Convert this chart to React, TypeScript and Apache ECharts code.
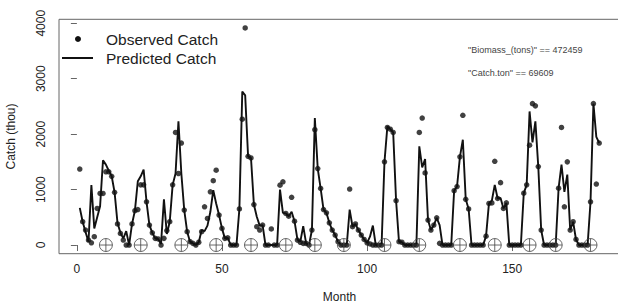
import React, { useEffect, useRef } from "react";
import * as echarts from "echarts";

// Month index 1..180
const months: number[] = Array.from({ length: 180 }, (_, i) => i + 1);

// Observed catch (thou)
const observed: number[] = [
  1370, 420, 270, 90, 40, 150, 660, 930, 930, 1320,
  1320, 1240, 950, 380, 210, 90, 0, 0, 380, 620,
  640, 1085, 1085, 780, 360, 220, 120, 110, 0, 120,
  260, 420, 1085, 2030, 1290, 1840, 630, 240, 60, 30,
  0, 50, 240, 690, 480, 960, 1160, 1350, 540, 300,
  120, 130, 0, 0, 0, 650, 2270, 3915, 1600, 1570,
  730, 330, 270, 360, 0, 0, 290, 0, 0, 1080,
  1140, 570, 520, 860, 430, 90, 50, 30, 30, 0,
  270, 2080, 1380, 1020, 640, 580, 400, 270, 180, 60,
  0, 0, 0, 1010, 330, 380, 270, 180, 100, 40,
  20, 0, 0, 0, 0, 1500, 2120, 2090, 2030, 800,
  60, 50, 0, 0, 0, 0, 0, 2030, 2290, 1300,
  450, 270, 360, 490, 30, 0, 0, 0, 0, 980,
  1055, 1590, 2340, 825, 650, 0, 0, 0, 0, 0,
  160, 750, 760, 1510, 840, 1125, 660, 760, 0, 0,
  0, 0, 0, 935, 1085, 1800, 2550, 2510, 1415, 270,
  0, 0, 0, 0, 0, 1025, 2120, 690, 1500, 270,
  420, 100, 0, 0, 0, 0, 780, 2550, 1100, 1840,
];

// Predicted catch (thou)
const predicted: number[] = [
  670, 420, 230, 60, 1080, 300, 500, 700, 1530, 1450,
  1340, 1240, 950, 400, 220, 120, 250, 0, 380, 620,
  1150, 1240, 1360, 780, 360, 220, 120, 110, 20, 825,
  200, 420, 1085, 1290, 2230, 1290, 630, 240, 60, 30,
  0, 50, 270, 250, 350, 600, 990, 750, 540, 300,
  120, 130, 0, 0, 0, 650, 2770, 2700, 1600, 1570,
  730, 510, 350, 360, 0, 0, 0, 0, 0, 1000,
  580, 570, 520, 600, 430, 100, 60, 340, 30, 0,
  270, 2290, 1380, 1020, 640, 580, 400, 270, 180, 60,
  0, 0, 0, 640, 330, 380, 270, 180, 100, 40,
  150, 350, 0, 0, 0, 1500, 2140, 2090, 2030, 800,
  60, 50, 0, 0, 0, 0, 0, 1780, 1400, 1550,
  450, 270, 360, 490, 360, 0, 0, 0, 0, 980,
  1055, 1590, 1900, 825, 650, 0, 0, 0, 0, 0,
  160, 750, 800, 1085, 840, 850, 660, 760, 0, 0,
  0, 0, 0, 935, 1085, 2410, 1850, 2230, 1415, 270,
  0, 0, 0, 0, 0, 1025, 1450, 960, 1270, 270,
  420, 100, 0, 0, 0, 0, 780, 2550, 1950, 1840,
];

// Months marked with a circled plus on the baseline
const markerMonths: number[] = [10, 22, 36, 48, 60, 72, 82, 92, 106, 118, 132, 144, 156, 165, 177];

const xTicks: number[] = [0, 50, 100, 150];
const yTicks: number[] = [0, 1000, 2000, 3000, 4000];

const legendLabels: string[] = ["Observed Catch", "Predicted Catch"];
const annotations: string[] = ['"Biomass_(tons)" == 472459', '"Catch.ton" == 69609'];

const FONT = "Liberation Sans, Arial, Helvetica, sans-serif";

export default function App() {
  const ref = useRef<HTMLDivElement>(null);

  useEffect(() => {
    if (!ref.current) return;
    const chart = echarts.init(ref.current, undefined, { renderer: "svg" });

    const option: any = {
      animation: false,
      backgroundColor: "#ffffff",
      grid: {
        left: 59,
        right: -2,
        top: 19.3,
        bottom: 49.3,
        show: true,
        borderColor: "#666",
        borderWidth: 1,
        backgroundColor: "transparent",
        containLabel: false,
        outerBoundsMode: "none",
      },
      xAxis: {
        type: "value",
        min: -6.16,
        max: 187.16,
        name: "Month",
        nameLocation: "middle",
        nameGap: 37,
        nameTextStyle: { color: "#222", fontSize: 12, fontFamily: FONT },
        axisLine: { show: false },
        splitLine: { show: false },
        axisTick: {
          show: true,
          inside: false,
          length: 6,
          customValues: xTicks,
          lineStyle: { color: "#666", width: 1 },
        },
        axisLabel: {
          show: true,
          customValues: xTicks,
          margin: 9,
          color: "#222",
          fontSize: 12,
          fontFamily: FONT,
          formatter: (v: number) => String(v),
        },
      },
      yAxis: {
        type: "value",
        min: -156.6,
        max: 4071.6,
        name: "Catch (thou)",
        nameLocation: "middle",
        nameGap: 42,
        nameRotate: 90,
        nameTextStyle: { color: "#222", fontSize: 12, fontFamily: FONT },
        axisLine: { show: false },
        splitLine: { show: false },
        axisTick: {
          show: true,
          inside: false,
          length: 6,
          customValues: yTicks,
          lineStyle: { color: "#666", width: 1 },
        },
        axisLabel: {
          show: true,
          customValues: yTicks,
          rotate: 90,
          margin: 18,
          color: "#222",
          fontSize: 12,
          fontFamily: FONT,
          align: "center",
          verticalAlign: "middle",
          formatter: (v: number) => String(v),
        },
      },
      series: [
        {
          name: "Predicted Catch",
          type: "line",
          data: predicted.map((v, i) => [months[i], v]),
          showSymbol: false,
          symbol: "none",
          lineStyle: { color: "#111", width: 1.9 },
          z: 2,
        },
        {
          name: "Observed Catch",
          type: "scatter",
          data: observed.map((v, i) => [months[i], v]),
          symbol: "circle",
          symbolSize: 5.5,
          itemStyle: { color: "#111" },
          z: 3,
        },
        {
          name: "Markers",
          type: "scatter",
          data: markerMonths.map((m) => [m, 0]),
          symbol:
            "path://M10,0A10,10,0,1,1,-10,0A10,10,0,1,1,10,0ZM-10,0L10,0M0,-10L0,10",
          symbolSize: 13,
          itemStyle: { color: "rgba(0,0,0,0)", borderColor: "#444", borderWidth: 1 },
          z: 4,
        },
      ],
      graphic: [
        { type: "circle", shape: { cx: 78, cy: 39, r: 3 }, style: { fill: "#111" } },
        {
          type: "text",
          x: 106,
          y: 39,
          style: { text: legendLabels[0], fill: "#222", fontSize: 15.5, fontFamily: FONT, verticalAlign: "middle" },
        },
        { type: "line", shape: { x1: 62, y1: 58, x2: 93, y2: 58 }, style: { stroke: "#111", lineWidth: 2 } },
        {
          type: "text",
          x: 106,
          y: 58,
          style: { text: legendLabels[1], fill: "#222", fontSize: 15.5, fontFamily: FONT, verticalAlign: "middle" },
        },
        {
          type: "text",
          x: 468,
          y: 50,
          style: { text: annotations[0], fill: "#444", fontSize: 9, fontFamily: FONT, verticalAlign: "middle" },
        },
        {
          type: "text",
          x: 468,
          y: 72.5,
          style: { text: annotations[1], fill: "#444", fontSize: 9, fontFamily: FONT, verticalAlign: "middle" },
        },
      ],
    };

    chart.setOption(option);
    return () => {
      chart.dispose();
    };
  }, []);

  return (
    <div
      ref={ref}
      style={{ position: "absolute", left: 0, top: 0, width: 618, height: 303 }}
    />
  );
}
